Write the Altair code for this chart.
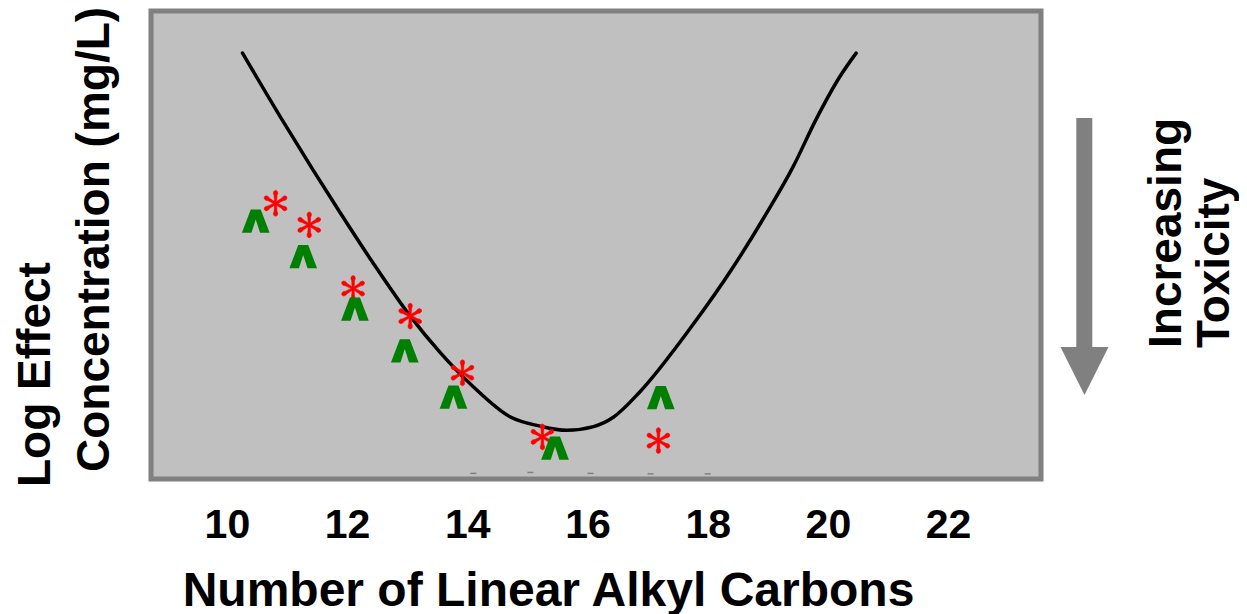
import math
import altair as alt
import pandas as pd

# ---- data ----
curve_x = [10.26, 10.94, 11.44, 11.88, 12.44, 13.05, 13.55, 14.10, 14.71, 15.21, 15.65,
           16.10, 16.43, 16.87, 17.71, 18.43, 18.98, 19.42, 19.81, 20.20, 20.47]
curve_y = [9.10, 7.63, 6.59, 5.70, 4.60, 3.48, 2.70, 1.97, 1.33, 1.13, 1.04,
           1.12, 1.32, 1.86, 3.22, 4.54, 5.68, 6.67, 7.70, 8.60, 9.10]

star_x = [10.81, 11.37, 12.10, 13.05, 13.92, 15.25, 17.18]
star_y = [5.89, 5.43, 4.07, 3.48, 2.27, 0.90, 0.82]

caret_x = [10.48, 11.27, 12.13, 12.96, 13.77, 15.46, 17.22]
caret_y = [5.51, 4.75, 3.63, 2.74, 1.75, 0.66, 1.74]

dash_x = [14.1, 15.05, 16.05, 17.05, 18.0]
dash_y = [0.12, 0.14, 0.12, 0.11, 0.11]

tick_values = [10, 12, 14, 16, 18, 20, 22]

x_title = "Number of Linear Alkyl Carbons"
y_title_lines = ["Log Effect", "Concentration (mg/L)"]
arrow_lines = ["Increasing", "Toxicity"]

# ---- shapes ----
def asterisk_path():
    parts = []
    prof = [(0.0, 0.07), (0.6, 0.11), (0.76, 0.17), (0.92, 0.14), (1.0, 0.0)]
    for ang in [90, 270, 30, 210, -30, 150]:
        a = math.radians(ang)
        dx, dy = math.cos(a), -math.sin(a)
        px, py = -dy, dx
        pts = [(r * dx + w * px, r * dy + w * py) for r, w in prof]
        pts += [(r * dx - w * px, r * dy - w * py) for r, w in reversed(prof[:-1])]
        parts.append("M" + " L".join(f"{x:.3f},{y:.3f}" for x, y in pts) + " Z")
    return " ".join(parts)

CARET = "M-1,0.84 L-0.36,-0.84 L0.36,-0.84 L1,0.84 L0.31,0.84 L0,-0.12 L-0.31,0.84 Z"
ARROW_HEAD = "M-1,-1 L1,-1 L0,1 Z"
DASH = "M-1,0 L1,0"

FONT = "Liberation Sans"

x_enc = alt.X(
    "x:Q",
    scale=alt.Scale(domain=[8.737, 23.546], nice=False, zero=False),
    axis=alt.Axis(
        values=tick_values, format="d", grid=False, ticks=False, tickSize=0, domain=False,
        labelFont=FONT, labelFontSize=41, labelFontWeight="bold", labelColor="black",
        labelPadding=58, labelBaseline="alphabetic", labelFlush=False,
        title=x_title, titleFont=FONT, titleFontSize=48, titleFontWeight="bold",
        titleColor="black", titleX=397, titleY=126, titleBaseline="alphabetic",
        titleAlign="center", titleAnchor="start",
    ),
)
y_enc = alt.Y("y:Q", scale=alt.Scale(domain=[0, 10], nice=False, zero=False), axis=None)

curve_df = pd.DataFrame({"x": curve_x, "y": curve_y})
star_df = pd.DataFrame({"x": star_x, "y": star_y})
caret_df = pd.DataFrame({"x": caret_x, "y": caret_y})
dash_df = pd.DataFrame({"x": dash_x, "y": dash_y})

curve = alt.Chart(curve_df).mark_line(
    color="black", strokeWidth=3.5, interpolate="monotone", strokeCap="round"
).encode(x=x_enc, y=y_enc)

dashes = alt.Chart(dash_df).mark_point(
    shape=DASH, size=36, filled=False, stroke="#808080", strokeWidth=1.5, opacity=1
).encode(x=x_enc, y=y_enc)

stars = alt.Chart(star_df).mark_point(
    shape=asterisk_path(), size=676, filled=True, fill="#ff0000",
    stroke="#ff0000", strokeWidth=0.6, opacity=1
).encode(x=x_enc, y=y_enc)

carets = alt.Chart(caret_df).mark_point(
    shape=CARET, size=767, filled=True, fill="#008000", strokeWidth=0, opacity=1
).encode(x=x_enc, y=y_enc)

def label(text, xv, yv, size=46):
    return alt.Chart(pd.DataFrame({"label": [text]})).mark_text(
        angle=270, align="left", baseline="alphabetic", font=FONT,
        fontSize=size, fontWeight="bold", color="black"
    ).encode(x=alt.value(xv), y=alt.value(yv), text="label:N")

ylab1 = label(y_title_lines[0], -101, 476)
ylab2 = label(y_title_lines[1], -42, 461)
rlab1 = label(arrow_lines[0], 1030, 337)
rlab2 = label(arrow_lines[1], 1078, 337)

shaft = alt.Chart(pd.DataFrame({"a": [0]})).mark_rule(
    color="#808080", strokeWidth=16
).encode(x=alt.value(933.3), y=alt.value(107), y2=alt.value(338))

head = alt.Chart(pd.DataFrame({"a": [0]})).mark_point(
    shape=ARROW_HEAD, size=2304, filled=True, color="#808080", opacity=1
).encode(x=alt.value(933.5), y=alt.value(360))

chart = alt.layer(
    curve, dashes, stars, carets, shaft, head, ylab1, ylab2, rlab1, rlab2
).properties(
    width=890, height=468,
    padding={"left": 143, "top": 3, "right": 198, "bottom": 135},
    autosize=alt.AutoSizeParams(type="none"),
    background="white",
).configure_view(
    fill="#c0c0c0", stroke="#808080", strokeWidth=5
)

chart.save("out.html", embed_options={"renderer": "svg", "actions": False})
